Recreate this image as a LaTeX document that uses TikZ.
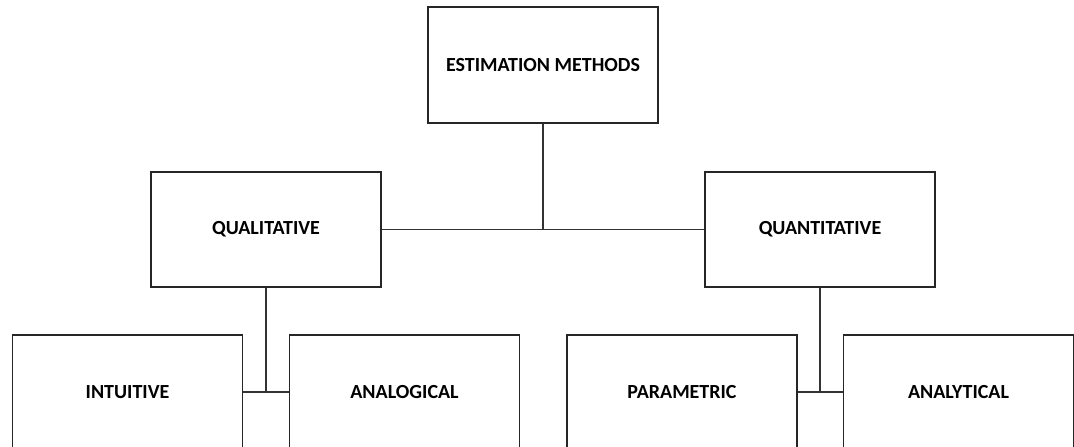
\documentclass[tikz,border=0pt]{standalone}
\usepackage{fontspec}
\setmainfont{Carlito}
\begin{document}
\begin{tikzpicture}[x=1pt,y=1pt,
  box/.style={draw=black!85,line width=1.5pt,rectangle,minimum width=230pt,inner sep=0pt,
    font=\fontsize{20}{24}\selectfont\bfseries,text=black},
  conn/.style={draw=black!80,line width=1.8pt}]
\useasboundingbox (0,0) rectangle (1074,447);
\clip (0,0) rectangle (1074,447);
\node[box,minimum height=116pt] (em) at (543,382) {ESTIMATION METHODS};
\node[box,minimum height=115pt] (ql) at (266,217.5) {QUALITATIVE};
\node[box,minimum height=115pt] (qn) at (820,217.5) {QUANTITATIVE};
\node[box,minimum height=114pt] (in) at (127.5,55) {INTUITIVE};
\node[box,minimum height=114pt] (an) at (404.5,55) {ANALOGICAL};
\node[box,minimum height=114pt] (pa) at (682,55) {PARAMETRIC};
\node[box,minimum height=114pt] (ay) at (958.5,55) {ANALYTICAL};
\draw[conn] (ql.east) -- (qn.west);
\draw[conn] (em.south) -- (em.south |- ql.east);
\draw[conn] (in.east) -- (an.west);
\draw[conn] (ql.south) -- (ql.south |- in.east);
\draw[conn] (pa.east) -- (ay.west);
\draw[conn] (qn.south) -- (qn.south |- pa.east);
\end{tikzpicture}
\end{document}
